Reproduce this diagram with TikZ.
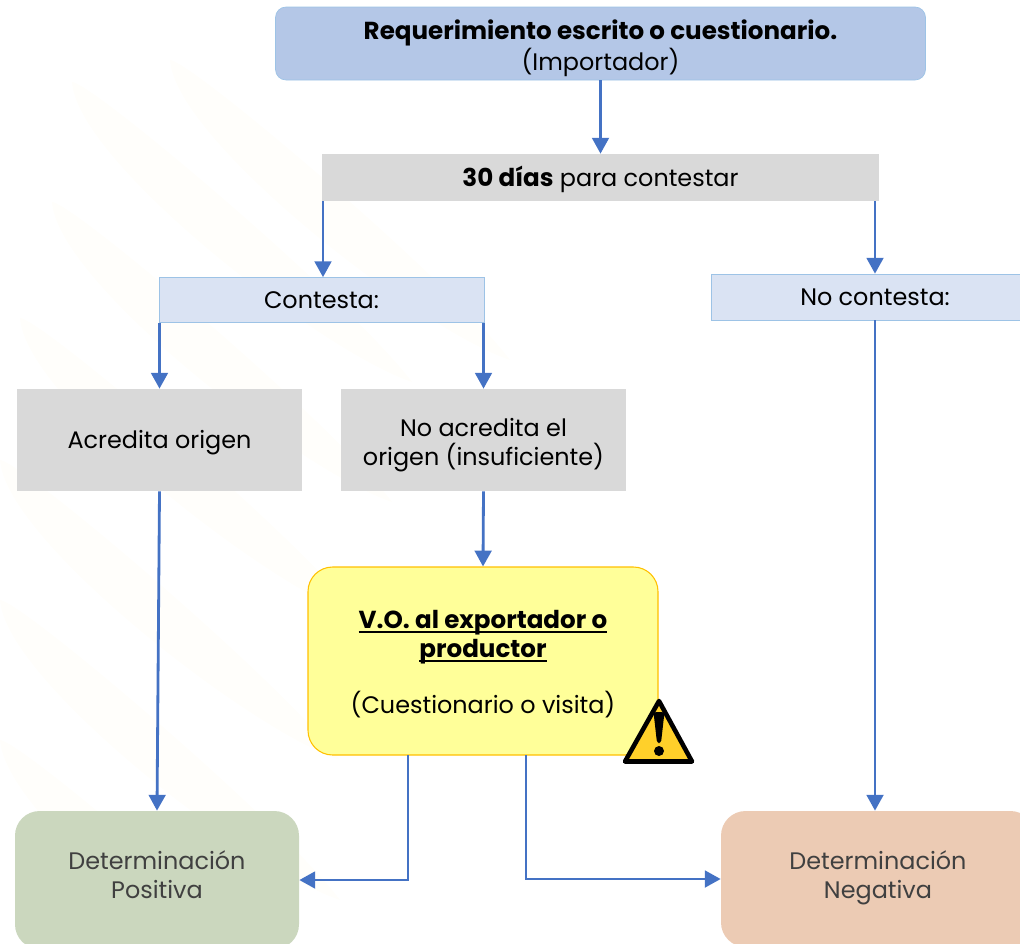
\documentclass[tikz,border=0pt]{standalone}
\usepackage{fontspec}
\setmainfont{Poppins}
\usetikzlibrary{arrows.meta}
\definecolor{azulA}{HTML}{B4C7E7}
\definecolor{azulB}{HTML}{DAE3F3}
\definecolor{borde}{HTML}{9DC3E6}
\definecolor{flecha}{HTML}{4472C4}
\definecolor{gris}{HTML}{D9D9D9}
\definecolor{verde}{HTML}{CBD7BE}
\definecolor{naranja}{HTML}{ECCBB4}
\definecolor{amarillo}{HTML}{FFFF99}
\definecolor{alerta}{HTML}{FFC000}
\definecolor{aviso}{HTML}{FFD02A}
\definecolor{fondo}{HTML}{FFFEFB}
\newcommand{\negrita}[1]{{\fontsize{14}{16.4}\selectfont\bfseries #1}}
\newcommand{\subrayado}[1]{\negrita{\setbox0=\hbox{#1}\rlap{\rule[-2.6pt]{\wd0}{0.9pt}}\box0}}
\tikzset{
  caja/.style={minimum height=#1*0.02cm,inner sep=0pt,align=center,font=\fontsize{13.6}{16.4}\selectfont},
  conector/.style={draw=flecha,line width=1.6pt,-{Triangle[length=9pt,width=9.5pt]}}
}
\begin{document}
\begin{tikzpicture}[x=0.02cm,y=-0.02cm]
  \useasboundingbox (0,0) rectangle (1020,943);
  \clip (0,0) rectangle (1020,943);
  % fondo
  \foreach \a/\b in {72/82,52/202,20/318,0/460,0/600,0/740,170/60}
    \fill [fondo] (\a,\b) .. controls (\a+20,\b) and (\a+280,\b+220) .. (\a+340,\b+300)
      .. controls (\a+250,\b+270) and (\a+5,\b+80) .. cycle;
  % cajas
  \node (requerimiento) [caja=73,minimum width=650*0.02cm,fill=azulA,draw=borde,rounded corners=6pt] at (600.5,43.5)
    {\rule{0pt}{16.5pt}\negrita{Requerimiento escrito o cuestionario.}\\(Importador)};
  \node (dias) [caja=47,minimum width=557*0.02cm,fill=gris] at (600.5,177.5) {\rule{0pt}{13.4pt}\negrita{30 días} para contestar};
  \node (contesta) [caja=45,minimum width=325*0.02cm,fill=azulB,draw=borde] at (321.5,300) {Contesta:};
  \node (nocontesta) [caja=46,minimum width=328*0.02cm,fill=azulB,draw=borde] at (875,297) {No contesta:};
  \node (acredita) [caja=102,minimum width=285*0.02cm,fill=gris] at (159.5,440) {\rule{0pt}{13.4pt}Acredita origen};
  \node (noacredita) [caja=102,minimum width=285*0.02cm,fill=gris] at (483.5,440) {\rule{0pt}{16.5pt}No acredita el\\origen (insuficiente)};
  \node (vo) [caja=188,minimum width=350*0.02cm,fill=amarillo,draw=alerta,line width=0.6pt,rounded corners=14pt] at (483,661)
    {\rule{0pt}{14pt}\subrayado{V.O. al exportador o}\\\subrayado{productor}\\[14.7pt](Cuestionario o visita)};
  \node (positiva) [caja=138,minimum width=284*0.02cm,fill=verde,text=black!75,rounded corners=14pt] at (157,880) {Determinación\\Positiva\rule[-6pt]{0pt}{0pt}};
  \node (negativa) [caja=136,minimum width=314*0.02cm,fill=naranja,text=black!75,rounded corners=14pt] at (878,879) {Determinación\\Negativa\rule[-5pt]{0pt}{0pt}};
  % salidas sueltas
  \coordinate (diasizq) at (323,201);
  \coordinate (voizq) at (408,755);
  \coordinate (voder) at (526,755);
  % conectores
  \draw [conector] (requerimiento.south) -- (dias.north);
  \draw [conector] (diasizq) -- (diasizq |- contesta.north);
  \draw [conector] (dias.south -| nocontesta.north) -- (nocontesta.north);
  \draw [conector] (contesta.south -| acredita.north) -- (acredita.north);
  \draw [conector] (contesta.south -| noacredita.north) -- (noacredita.north);
  \draw [conector] (acredita.south) -- (positiva.north);
  \draw [conector] (noacredita.south) -- (vo.north);
  \draw [conector] (nocontesta.south) -- (nocontesta.south |- negativa.north);
  \draw [conector] (voizq) |- (positiva.east);
  \draw [conector] (voder) |- (negativa.west);
  % triangulo de alerta
  \draw [fill=aviso,line width=2.6pt,line join=round] (659,701) -- (692,761.5) -- (625,761.5) -- cycle;
  \fill [rounded corners=1.5pt] (653.5,712) -- (664.5,712) -- (661,743) -- (657,743) -- cycle;
  \fill (659,751) circle (5);
\end{tikzpicture}
\end{document}
